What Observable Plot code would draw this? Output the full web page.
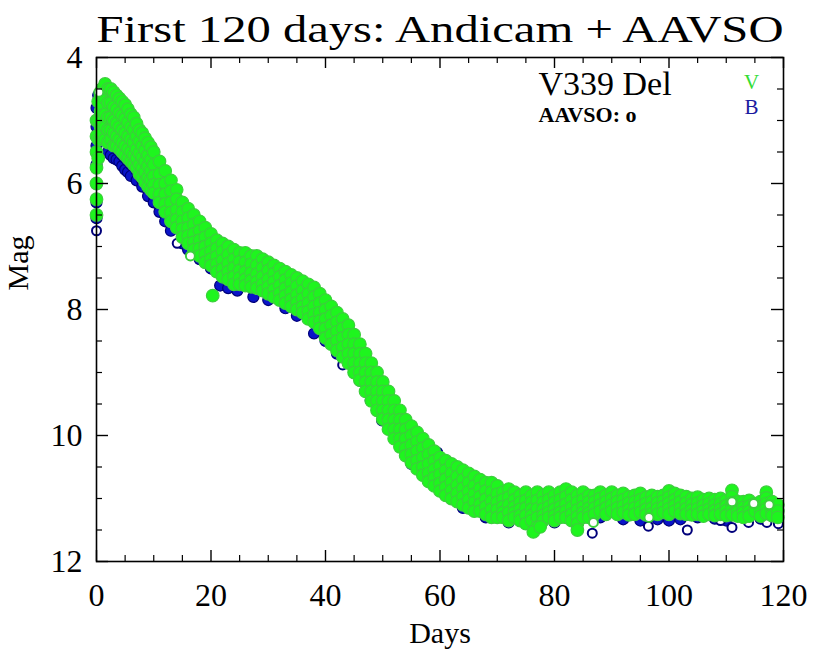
<!DOCTYPE html>
<html>
<head>
<meta charset="utf-8">
<script src="https://cdn.jsdelivr.net/npm/d3@7"></script>
<script src="https://cdn.jsdelivr.net/npm/@observablehq/plot@0.6"></script>
<style>
  html, body { margin: 0; padding: 0; background: #fff; }
  #chart svg { display: block; }
</style>
</head>
<body>
<div id="chart"></div>
<script>
// ---------- texts ----------
const titleText = "First 120 days: Andicam + AAVSO";
const xLabel = "Days";
const yLabel = "Mag";
const starName = "V339 Del";
const aavsoNote = "AAVSO: o";
const bandNames = ["V", "B"];

// ---------- ticks ----------
const xTicks = [0, 20, 40, 60, 80, 100, 120];
const xMinorTicks = [5, 10, 15, 25, 30, 35, 45, 50, 55, 65, 70, 75, 85, 90, 95, 105, 110, 115];
const yTicks = [4, 6, 8, 10, 12];
const yMinorTicks = [4.5, 5, 5.5, 6.5, 7, 7.5, 8.5, 9, 9.5, 10.5, 11, 11.5];

// ---------- V band (green): [day, mag, mag, ...] ----------
const vRows = [
  [0, 6.5, 6.25, 6.0, 5.75, 5.5, 5.25, 5.0],
  [0.3, 5.6, 5.3, 5.0, 4.7],
  [0.7, 4.6, 4.85, 5.1, 5.3],
  [1.0, 4.5, 4.75, 5.0, 5.2],
  [1.5, 4.42, 4.65, 4.9, 5.1, 5.3],
  [2, 4.5, 4.72, 4.95, 5.15, 5.35],
  [2.5, 4.5, 4.72, 4.95, 5.15, 5.3],
  [3, 4.55, 4.78, 5.0, 5.2, 5.4],
  [3.5, 4.6, 4.82, 5.05, 5.25, 5.4],
  [4, 4.65, 4.88, 5.1, 5.3, 5.45],
  [4.5, 4.7, 4.92, 5.15, 5.35, 5.5],
  [5, 4.75, 4.97, 5.2, 5.4, 5.55],
  [5.5, 4.82, 5.03, 5.25, 5.45, 5.6],
  [6, 4.9, 5.1, 5.3, 5.5, 5.65],
  [6.5, 4.95, 5.15, 5.35, 5.55, 5.7],
  [7, 5.05, 5.25, 5.45, 5.6, 5.75],
  [7.5, 5.15, 5.33, 5.52, 5.7, 5.85],
  [8, 5.2, 5.4, 5.58, 5.75, 5.9],
  [8.5, 5.28, 5.47, 5.65, 5.82, 5.98],
  [9, 5.35, 5.55, 5.72, 5.9, 6.05],
  [9.5, 5.42, 5.62, 5.8, 5.95, 6.1],
  [10, 5.5, 5.7, 5.88, 6.02, 6.15],
  [11, 5.65, 5.85, 6.02, 6.17, 6.3],
  [12, 5.8, 6.0, 6.17, 6.32, 6.45],
  [13, 5.95, 6.12, 6.3, 6.46, 6.6],
  [14, 6.1, 6.25, 6.42, 6.57, 6.7],
  [15, 6.3, 6.45, 6.6, 6.72, 6.85],
  [16, 6.4, 6.55, 6.7, 6.83, 6.95],
  [17, 6.5, 6.65, 6.8, 6.93, 7.05],
  [18, 6.6, 6.75, 6.9, 7.03, 7.15],
  [19, 6.7, 6.85, 7.0, 7.12, 7.25],
  [20, 6.8, 6.95, 7.08, 7.2, 7.3],
  [21, 6.9, 7.03, 7.16, 7.28, 7.4],
  [22, 6.95, 7.08, 7.22, 7.36, 7.48],
  [23, 7.0, 7.13, 7.27, 7.4, 7.52],
  [24, 7.05, 7.2, 7.34, 7.48, 7.6],
  [25, 7.1, 7.24, 7.38, 7.5, 7.6],
  [26, 7.1, 7.25, 7.4, 7.52, 7.62],
  [27, 7.15, 7.28, 7.42, 7.54, 7.64],
  [28, 7.15, 7.3, 7.44, 7.56, 7.66],
  [29, 7.2, 7.34, 7.48, 7.6, 7.7],
  [30, 7.25, 7.38, 7.52, 7.64, 7.75],
  [31, 7.3, 7.43, 7.56, 7.68, 7.8],
  [32, 7.35, 7.48, 7.62, 7.74, 7.85],
  [33, 7.4, 7.53, 7.66, 7.78, 7.9],
  [34, 7.45, 7.58, 7.72, 7.84, 7.95],
  [35, 7.5, 7.63, 7.77, 7.89, 8.0],
  [36, 7.55, 7.7, 7.83, 7.95, 8.05],
  [37, 7.6, 7.75, 7.9, 8.03, 8.15],
  [38, 7.65, 7.8, 7.95, 8.08, 8.2],
  [39, 7.75, 7.9, 8.05, 8.18, 8.3],
  [40, 7.85, 8.0, 8.15, 8.3, 8.45],
  [41, 7.95, 8.1, 8.25, 8.4, 8.55],
  [42, 8.05, 8.2, 8.35, 8.5, 8.65],
  [43, 8.15, 8.3, 8.45, 8.6, 8.75],
  [44, 8.25, 8.4, 8.55, 8.7, 8.85],
  [45, 8.4, 8.55, 8.7, 8.85, 9.0],
  [46, 8.55, 8.7, 8.85, 9.0, 9.12],
  [47, 8.7, 8.85, 9.0, 9.15, 9.3],
  [48, 8.85, 9.0, 9.15, 9.3, 9.45],
  [49, 9.0, 9.15, 9.3, 9.45, 9.6],
  [50, 9.15, 9.3, 9.45, 9.6, 9.74],
  [51, 9.3, 9.45, 9.6, 9.75, 9.9],
  [52, 9.45, 9.6, 9.75, 9.9, 10.05],
  [53, 9.6, 9.75, 9.9, 10.05, 10.18],
  [54, 9.75, 9.9, 10.05, 10.2, 10.32],
  [55, 9.85, 10.0, 10.15, 10.3, 10.43],
  [56, 9.95, 10.1, 10.25, 10.4, 10.53],
  [57, 10.05, 10.2, 10.35, 10.5, 10.63],
  [58, 10.15, 10.3, 10.45, 10.6, 10.73],
  [59, 10.25, 10.4, 10.54, 10.67, 10.8],
  [60, 10.35, 10.48, 10.62, 10.76, 10.88],
  [61, 10.4, 10.55, 10.69, 10.82, 10.95],
  [62, 10.45, 10.6, 10.74, 10.87, 11.0],
  [63, 10.5, 10.65, 10.79, 10.92, 11.05],
  [64, 10.55, 10.7, 10.84, 10.97, 11.1],
  [65, 10.6, 10.75, 10.89, 11.02, 11.15],
  [66, 10.65, 10.8, 10.93, 11.06, 11.2],
  [67, 10.7, 10.84, 10.97, 11.09, 11.2],
  [68, 10.75, 10.88, 11.01, 11.13, 11.25],
  [69, 10.75, 10.9, 11.04, 11.17, 11.3],
  [70, 10.8, 10.93, 11.06, 11.18, 11.3],
  [71, 10.9, 11.02, 11.13, 11.22, 11.3],
  [72, 10.85, 10.98, 11.1, 11.22, 11.35],
  [73, 10.9, 11.02, 11.13, 11.22, 11.3],
  [74, 10.95, 11.06, 11.17, 11.27, 11.35],
  [75, 10.9, 11.03, 11.15, 11.27, 11.4],
  [76, 10.95, 11.06, 11.17, 11.27, 11.35],
  [77, 10.9, 11.03, 11.16, 11.3, 11.45],
  [78, 10.95, 11.06, 11.17, 11.27, 11.35],
  [79, 10.9, 11.02, 11.13, 11.22, 11.3],
  [80, 10.95, 11.06, 11.17, 11.27, 11.35],
  [81, 10.9, 11.02, 11.13, 11.22, 11.3],
  [82, 10.85, 10.97, 11.09, 11.2, 11.3],
  [83, 10.9, 11.02, 11.14, 11.25, 11.35],
  [84, 10.95, 11.06, 11.18, 11.29, 11.4],
  [85, 10.9, 11.02, 11.13, 11.22, 11.3],
  [86, 10.95, 11.05, 11.15, 11.23, 11.3],
  [87, 10.95, 11.05, 11.15, 11.25],
  [88, 10.9, 11.0, 11.1, 11.2],
  [89, 10.95, 11.05, 11.15, 11.25],
  [90, 10.9, 11.0, 11.1, 11.2],
  [91, 10.95, 11.05, 11.15, 11.25],
  [92, 10.92, 11.02, 11.12, 11.22],
  [93, 10.97, 11.07, 11.17, 11.26],
  [94, 10.95, 11.05, 11.15, 11.25],
  [95, 10.92, 11.02, 11.12, 11.22],
  [96, 10.98, 11.08, 11.17, 11.26],
  [97, 10.95, 11.05, 11.15, 11.24],
  [98, 10.97, 11.07, 11.16, 11.25],
  [99, 10.95, 11.04, 11.13, 11.22],
  [100, 10.88, 10.98, 11.07, 11.16, 11.25],
  [101, 10.92, 11.02, 11.11, 11.2],
  [102, 10.95, 11.05, 11.15, 11.24],
  [103, 10.97, 11.07, 11.16, 11.25],
  [104, 11.0, 11.09, 11.18, 11.26],
  [105, 10.98, 11.07, 11.16, 11.25],
  [106, 11.02, 11.11, 11.2, 11.28],
  [107, 11.0, 11.08, 11.17, 11.25],
  [108, 11.02, 11.1, 11.19, 11.27],
  [109, 11.0, 11.08, 11.17, 11.25],
  [110, 11.03, 11.11, 11.19, 11.27],
  [111, 10.87, 10.97, 11.07, 11.17, 11.26],
  [112, 11.05, 11.13, 11.21, 11.28],
  [113, 11.05, 11.14, 11.22, 11.3],
  [114, 11.03, 11.12, 11.2, 11.28],
  [115, 11.08, 11.2],
  [116, 11.05, 11.13, 11.21, 11.28],
  [117, 10.9, 10.99, 11.08, 11.16, 11.24],
  [118, 11.05, 11.13, 11.2, 11.27],
  [119, 11.1, 11.2, 11.3]
];
// single V outliers (filled)
const vOutDays = [20.3, 76.3, 84, 77.5];
const vOutMags = [7.78, 11.53, 11.5, 11.45];
// V AAVSO open circles
const vOpenDays = [0.4, 16.4, 86.8, 96.5, 111, 114.8, 117.5];
const vOpenMags = [4.55, 7.15, 11.38, 11.3, 11.05, 11.08, 11.1];

// ---------- B band (blue): [day, mag, mag, ...] ----------
const bRows = [
  [0, 6.55, 6.3, 6.0, 5.7, 5.4, 5.1, 4.8],
  [0.3, 4.6],
  [1.2, 4.5],
  [2, 5.3, 5.5],
  [2.5, 5.35, 5.55],
  [3, 5.4, 5.6],
  [3.5, 5.45, 5.62],
  [4, 5.5, 5.65],
  [4.5, 5.55, 5.72],
  [5, 5.6, 5.78],
  [5.5, 5.65, 5.82],
  [6, 5.7, 5.88],
  [7, 5.8, 5.95],
  [8, 5.95, 6.05],
  [9, 6.1, 6.2],
  [10, 6.2, 6.3],
  [11, 6.35, 6.45],
  [12, 6.5, 6.6],
  [13, 6.65, 6.75],
  [15, 6.95],
  [16, 7.05],
  [18, 7.2],
  [20, 7.35],
  [21.6, 7.62],
  [23, 7.66],
  [24.6, 7.7],
  [27.4, 7.8],
  [30, 7.85],
  [33, 7.98],
  [35, 8.1],
  [38, 8.38],
  [40, 8.5],
  [42, 8.7],
  [45, 9.0],
  [46, 9.13],
  [47.9, 9.44],
  [49.9, 9.76],
  [52.2, 9.97],
  [55, 10.45],
  [59.5, 10.27],
  [60, 10.87],
  [62, 11.0],
  [64, 11.15],
  [67, 10.7],
  [68, 11.3],
  [72, 11.38],
  [75, 11.4],
  [80, 11.38],
  [83, 11.35],
  [88, 11.3],
  [92, 11.33],
  [95, 11.35],
  [98, 11.33],
  [100, 11.35],
  [102, 11.33],
  [105, 11.3],
  [108, 11.32],
  [110, 11.35],
  [113, 11.3],
  [116, 11.32]
];
// B AAVSO open circles
const bOpenDays = [0, 14.1, 18.7, 43, 86.6, 96.4, 103.2, 109, 111, 113.9, 115.1, 117.1, 119.1];
const bOpenMags = [6.75, 6.95, 6.9, 8.88, 11.55, 11.44, 11.5, 11.35, 11.46, 11.38, 11.19, 11.38, 11.4];

// ---------- build tables ----------
const flat = rows => rows.flatMap(([d, ...ms]) => ms.map(m => ({day: d, mag: m})));
const vPts = flat(vRows).concat(vOutDays.map((d, i) => ({day: d, mag: vOutMags[i]})));
const bPts = flat(bRows);
const vOpen = vOpenDays.map((d, i) => ({day: d, mag: vOpenMags[i]}));
const bOpen = bOpenDays.map((d, i) => ({day: d, mag: bOpenMags[i]}));

// ---------- layout ----------
const W = 814, H = 650;
const mL = 96, mR = 31, mT = 57, mB = 89;
const FW = W - mL - mR, FH = H - mT - mB;
const serif = "Liberation Serif";
const green = "#1ef51e", greenEdge = "#3ccf3c";
const blue = "#0a14c8", navy = "#00007a";

const plot = Plot.plot({
  width: W,
  height: H,
  marginLeft: mL, marginRight: mR, marginTop: mT, marginBottom: mB,
  style: {fontFamily: serif, background: "white", overflow: "visible"},
  x: {domain: [0, 120], axis: null},
  y: {domain: [4, 12], reverse: true, axis: null},
  marks: [
    // data
    Plot.dot(bPts, {x: "day", y: "mag", r: 5.5, fill: blue, stroke: navy, strokeWidth: 1.2}),
    Plot.dot(bOpen, {x: "day", y: "mag", r: 4.5, fill: "white", stroke: navy, strokeWidth: 2}),
    Plot.dot(vPts, {x: "day", y: "mag", r: 6.3, fill: green, stroke: greenEdge, strokeWidth: 1.2}),
    Plot.dot(vOpen, {x: "day", y: "mag", r: 4.5, fill: "white", stroke: greenEdge, strokeWidth: 2}),
    // frame
    Plot.frame({stroke: "black", strokeWidth: 1.6}),
    // inward ticks: bottom & top
    Plot.ruleX(xTicks, {x: d => d, insetTop: FH - 11, stroke: "black", strokeWidth: 1.4}),
    Plot.ruleX(xMinorTicks, {x: d => d, insetTop: FH - 6, stroke: "black", strokeWidth: 1.2}),
    Plot.ruleX(xTicks, {x: d => d, insetBottom: FH - 11, stroke: "black", strokeWidth: 1.4}),
    Plot.ruleX(xMinorTicks, {x: d => d, insetBottom: FH - 6, stroke: "black", strokeWidth: 1.2}),
    // inward ticks: left & right
    Plot.ruleY(yTicks, {y: d => d, insetRight: FW - 12, stroke: "black", strokeWidth: 1.4}),
    Plot.ruleY(yMinorTicks, {y: d => d, insetRight: FW - 6, stroke: "black", strokeWidth: 1.2}),
    Plot.ruleY(yTicks, {y: d => d, insetLeft: FW - 12, stroke: "black", strokeWidth: 1.4}),
    Plot.ruleY(yMinorTicks, {y: d => d, insetLeft: FW - 6, stroke: "black", strokeWidth: 1.2}),
    // tick labels
    Plot.axisX(xTicks, {anchor: "bottom", tickSize: 0, tickPadding: 22, tickFormat: d => String(d), fontSize: 32, fontFamily: serif, fill: "black", label: null}),
    Plot.axisY(yTicks, {anchor: "left", tickSize: 0, tickPadding: 14, tickFormat: d => String(d), fontSize: 32, fontFamily: serif, fill: "black", label: null}),
    // axis titles
    Plot.text([xLabel], {frameAnchor: "bottom", dy: 72, fontSize: 30, fontFamily: serif, fill: "black", lineAnchor: "middle"}),
    Plot.text([yLabel], {frameAnchor: "left", dx: -78, dy: -19, rotate: -90, fontSize: 30, fontFamily: serif, fill: "black", lineAnchor: "middle"}),
    // title
    Plot.text([titleText], {frameAnchor: "top", dy: -27, fontSize: 37, fontFamily: serif, fill: "black", lineAnchor: "middle"}),
    // annotations
    Plot.text([starName], {frameAnchor: "top-left", dx: 442, dy: 27, textAnchor: "start", lineAnchor: "middle", fontSize: 34, fontFamily: serif, fill: "black"}),
    Plot.text([aavsoNote], {frameAnchor: "top-left", dx: 442, dy: 57, textAnchor: "start", lineAnchor: "middle", fontSize: 22, fontWeight: "bold", fontFamily: serif, fill: "black"}),
    Plot.text([bandNames[0]], {frameAnchor: "top-left", dx: 655, dy: 25, textAnchor: "middle", lineAnchor: "middle", fontSize: 21, fontFamily: serif, fill: "#33dd33"}),
    Plot.text([bandNames[1]], {frameAnchor: "top-left", dx: 655, dy: 50, textAnchor: "middle", lineAnchor: "middle", fontSize: 21, fontFamily: serif, fill: "#1a1aa0"})
  ]
});

// stretch the title to the width of the frame, as in the original
d3.select(plot).selectAll("text").filter(function() { return this.textContent === titleText; })
  .attr("textLength", FW).attr("lengthAdjust", "spacingAndGlyphs");

document.getElementById("chart").appendChild(plot);
</script>
</body>
</html>
